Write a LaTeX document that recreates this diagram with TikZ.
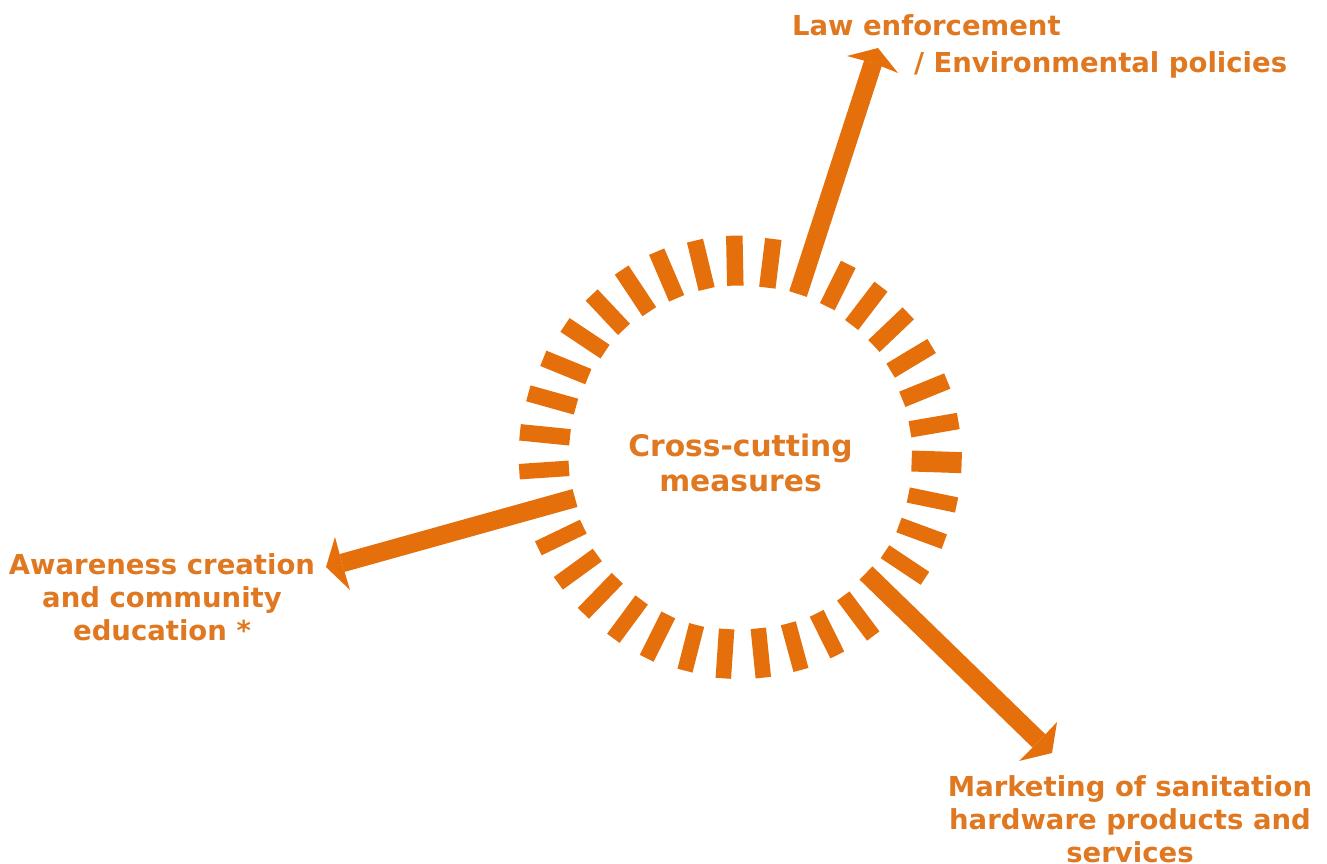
\documentclass[tikz,border=0pt]{standalone}
\usepackage{fontspec}
\setmainfont{DejaVu Sans}
\definecolor{shaft}{HTML}{E56F0A}
\definecolor{ink}{HTML}{DF7820}
\tikzset{
  tick/.style={draw=shaft,line width=16.5pt},
  ticklow/.style={draw=shaft,line width=15.5pt},
  shaftline/.style={draw=shaft,line width=18.5pt},
  headfill/.style={fill=shaft,draw=none},
  lab/.style={text=ink,font=\bfseries\fontsize{27.5}{33}\selectfont,inner sep=0pt,outer sep=0pt,align=center}
}
\begin{document}
\begin{tikzpicture}[x=1pt,y=-1pt]
\useasboundingbox (0,0) rectangle (1327,863);
% upper ticks (coordinates read at 3x from origin 500,220)
\begin{scope}[shift={(500,220)},x=0.3333pt,y=-0.3333pt]
\foreach \xa/\ya/\xb/\yb in {60/637/210/652,85/520/228/560,130/415/265/470,195/315/315/395,275/225/372/328,365/150/448/275,470/95/530/235,585/62/620/207,703/47/706/197,820/57/802/203,1045/133/982/260,1143/200/1055/315,1225/280/1122/378,1295/378/1172/452,1342/483/1207/538,1375/603/1230/628}
  \draw[tick] (\xa,\ya) -- (\xb,\yb);
\end{scope}
% lower ticks (origin 500,450)
\begin{scope}[shift={(500,450)},x=0.3333pt,y=-0.3333pt]
\foreach \xa/\ya/\xb/\yb in {1370/165/1225/135,1333/275/1197/225,1275/385/1155/305,1120/558/1030/438,1012/615/950/490,903/660/865/520,790/683/775/535,670/685/680/537,555/662/590/525,440/625/505/495,340/565/425/450,250/490/352/385,175/400/292/315,115/295/250/230,58/65/207/55}
  \draw[ticklow] (\xa,\ya) -- (\xb,\yb);
\draw[tick,line width=21pt] (1385,38) -- (1235,33);
\end{scope}
% arrows
\coordinate (lawS) at (798,294);
\coordinate (lawE) at (873,63);
\coordinate (lawT) at (878,48);
\coordinate (lawA) at (847,56);
\coordinate (lawB) at (898,73);
\draw[shaftline] (lawS) -- (lawE);
\fill[headfill] (lawT) -- (lawB) -- (lawE) -- (lawA) -- cycle;
\coordinate (awaS) at (575,498);
\coordinate (awaE) at (342,563);
\coordinate (awaT) at (326,567);
\coordinate (awaA) at (335,537);
\coordinate (awaB) at (350,590);
\draw[shaftline] (awaS) -- (awaE);
\fill[headfill] (awaT) -- (awaA) -- (awaE) -- (awaB) -- cycle;
\coordinate (marS) at (866,573);
\coordinate (marE) at (1039,741);
\coordinate (marT) at (1052,753);
\coordinate (marA) at (1057,722);
\coordinate (marB) at (1019,761);
\draw[shaftline] (marS) -- (marE);
\fill[headfill] (marT) -- (marA) -- (marE) -- (marB) -- cycle;
% labels
\node[lab,anchor=north west,align=left,font=\bfseries\fontsize{27.5}{36.5}\selectfont] (law) at (792,15) {Law enforcement\\\hspace*{122pt}/ Environmental policies};
\node[lab,anchor=north] (awa) at (162,553.5) {Awareness creation\\and community\\education *};
\node[lab,anchor=north] (mar) at (1130,775.5) {Marketing of sanitation\\hardware products and\\services};
\node[lab,anchor=north,font=\bfseries\fontsize{29.7}{35}\selectfont] (ctr) at (740.5,434) {Cross-cutting\\measures};
\end{tikzpicture}
\end{document}
